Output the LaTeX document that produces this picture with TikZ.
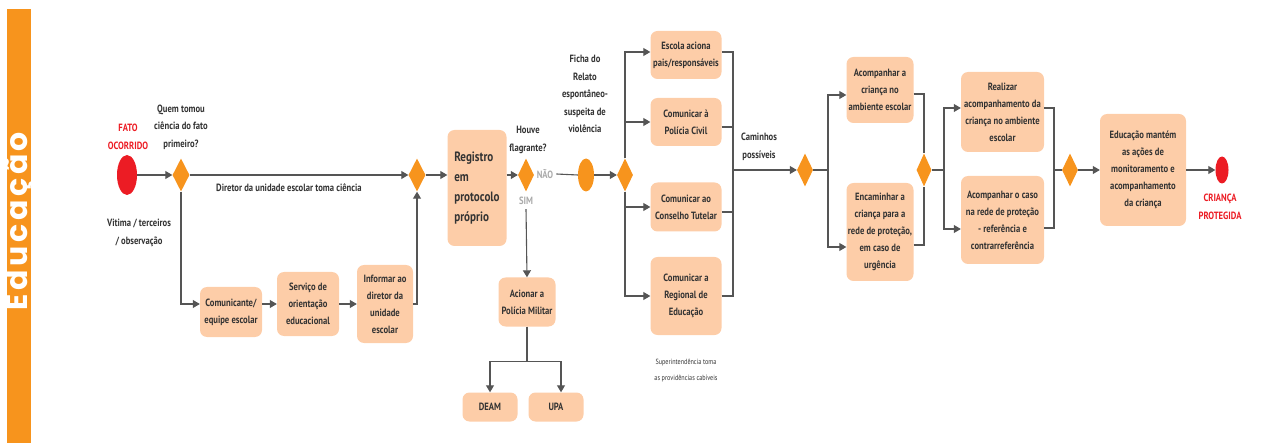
\documentclass[tikz,border=0pt]{standalone}
\usepackage{fontspec}
\setmainfont[FakeStretch=0.82]{PT Sans}
\newfontfamily\barrafont[LetterSpace=12]{Poppins}
\usetikzlibrary{shapes.geometric,arrows.meta}
\definecolor{laranja}{HTML}{F7941D}
\definecolor{pessego}{HTML}{FDCDA8}
\definecolor{traco}{HTML}{555555}
\definecolor{texto}{HTML}{333333}
\definecolor{vermelho}{HTML}{EC1C24}
\definecolor{cinza}{HTML}{AAAAAA}
\begin{document}
\begin{tikzpicture}[x=1pt,y=-1pt,
		caixa/.style={shape=rectangle, rounded corners=7pt, fill=pessego, text=texto, font=\fontsize{10.5}{17}\selectfont\bfseries, align=center, inner sep=0pt},
		losango/.style={shape=diamond, fill=laranja, inner sep=0pt, minimum width=17pt, minimum height=33pt},
		rotulo/.style={text=texto, font=\fontsize{10.5}{17.5}\selectfont\bfseries, align=center, inner sep=0pt},
		seta/.style={draw=traco, line width=1.1pt, -{Triangle[length=7pt,width=8pt]}},
		linha/.style={draw=traco, line width=1.1pt}]
		\useasboundingbox (0,0) rectangle (1273,443);
		\node[fill=laranja, minimum width=24pt, minimum height=434pt, inner sep=0pt] (barra) at (19,226) {};
		\node[rotate=90, inner sep=0pt, text=white, font=\barrafont\fontsize{30}{30}\selectfont\bfseries] (barratxt) at (20,221) {Educação};
		% Entrada
		\node[shape=ellipse, fill=vermelho, minimum width=20pt, minimum height=40pt, inner sep=0pt] (fato) at (127,175) {};
		\node[rotulo, text=vermelho] (fatotxt) at (128,137) {FATO\\OCORRIDO};
		\node[losango] (quem) at (181,175) {};
		\node[rotulo] (quemtxt) at (181,127) {Quem tomou\\ciência do fato\\primeiro?};
		\node[rotulo] (vitima) at (139,233) {Vitima / terceiros\\/ observação};
		\node[rotulo] (diretor) at (289,188) {Diretor da unidade escolar toma ciência};
		\node[losango] (junta) at (417,175) {};
		\node[caixa, minimum width=62pt, minimum height=50pt] (comunicante) at (231,312) {Comunicante/\\equipe escolar};
		\node[caixa, minimum width=62pt, minimum height=64pt] (servico) at (308,304) {Serviço de\\orientação\\educacional};
		\node[caixa, minimum width=56pt, minimum height=78pt] (informar) at (385,304) {Informar ao\\diretor da\\unidade\\escolar};
		% Registro e flagrante
		\node[caixa, minimum width=59pt, minimum height=116pt, font=\fontsize{13.5}{20}\selectfont\bfseries, align=left] (registro) at (477,188) {Registro\\em\\protocolo\\próprio};
		\node[losango, minimum width=16pt] (flagrante) at (526,175) {};
		\node[rotulo] (houve) at (528,140) {Houve\\flagrante?};
		\node[rotulo, text=cinza] (nao) at (545,174) {NÃO};
		\node[rotulo, text=cinza] (sim) at (526,201) {SIM};
		\node[caixa, minimum width=57pt, minimum height=49pt] (militar) at (527,302) {Acionar a\\Polícia Militar};
		\node[caixa, minimum width=55pt, minimum height=29pt] (deam) at (490,407) {DEAM};
		\node[caixa, minimum width=55pt, minimum height=29pt] (upa) at (556,407) {UPA};
		\node[shape=ellipse, fill=laranja, minimum width=16pt, minimum height=33pt, inner sep=0pt] (ficha) at (586,175) {};
		\node[rotulo] (fichatxt) at (585,94) {Ficha do\\Relato\\espontâneo-\\suspeita de\\violência};
		\node[losango, minimum width=16pt] (caminho) at (625,175) {};
		% Comunicacoes
		\node[caixa, minimum width=71pt, minimum height=48pt] (escola) at (686,55) {Escola aciona\\pais/responsáveis};
		\node[caixa, minimum width=71pt, minimum height=48pt] (civil) at (686,122) {Comunicar à\\Polícia Civil};
		\node[caixa, minimum width=71pt, minimum height=49pt] (conselho) at (686,207) {Comunicar ao\\Conselho Tutelar};
		\node[caixa, minimum width=71pt, minimum height=78pt] (regional) at (686,296) {Comunicar a\\Regional de\\Educação};
		\node[rotulo, font=\fontsize{7.5}{16}\selectfont] (superint) at (686,371) {Superintendência toma\\as providências cabíveis};
		\coordinate (coletor) at (733,170);
		\node[rotulo] (possiveis) at (759,147) {Caminhos\\possíveis};
		% Acompanhamento
		\node[losango, minimum width=16pt] (escolha) at (805,170) {};
		\coordinate (ramo) at (828,170);
		\node[caixa, minimum width=67pt, minimum height=66pt] (acompanhar) at (880,90) {Acompanhar a\\criança no\\ambiente escolar};
		\node[caixa, minimum width=67pt, minimum height=98pt] (encaminhar) at (880,232) {Encaminhar a\\criança para a\\rede de proteção,\\em caso de\\urgência};
		\node[losango, minimum width=15pt] (segue) at (924,170) {};
		\coordinate (ramob) at (944,170);
		\node[caixa, minimum width=83pt, minimum height=80pt] (realizar) at (1002.5,112) {Realizar\\acompanhamento da\\criança no ambiente\\escolar};
		\node[caixa, minimum width=83pt, minimum height=88pt] (rede) at (1002.5,220) {Acompanhar o caso\\na rede de proteção\\- referência e\\contrarreferência};
		\coordinate (coletorb) at (1054,170);
		\node[losango, minimum width=16pt] (fim) at (1070,170) {};
		\node[caixa, minimum width=86pt, minimum height=112pt] (mantem) at (1143,170) {Educação mantém\\as ações de\\monitoramento e\\acompanhamento\\da criança};
		\node[shape=ellipse, fill=vermelho, minimum width=13pt, minimum height=27pt, inner sep=0pt] (protegida) at (1222,170) {};
		\node[rotulo, text=vermelho] (protegtxt) at (1220,207) {CRIANÇA\\PROTEGIDA};
		% Connections
		\draw[seta] (fato) -- (quem);
		\draw[seta] (quem) -- (junta);
		\draw[seta] (quem.south) |- (comunicante.west |- servico.west);
		\draw[seta] (comunicante.east |- servico.west) -- (servico.west);
		\draw[seta] (servico.east) -- (informar.west);
		\draw[seta] (informar.east) -| (junta.south);
		\draw[seta] (junta.east) -- (registro.west |- junta.east);
		\draw[seta] (registro.east |- flagrante.west) -- (flagrante.west);
		\draw[linha] (nao.east) ++(3,0) -- (ficha.west);
		\draw[seta] (ficha) -- (caminho);
		\draw[seta] (sim.south) ++(0,4) -- (militar.north);
		\draw[linha] (militar.south) -- ++(0,35) coordinate (bifurca);
		\draw[seta] (bifurca) -| (deam.north);
		\draw[seta] (bifurca) -| ([xshift=5pt]upa.north);
		%% Caminhos
		\draw[seta] (caminho.north) |- ([yshift=3pt]escola.west);
		\draw[seta] (caminho.north) |- (civil.west);
		\draw[seta] (caminho.south) |- (conselho.west);
		\draw[seta] (caminho.south) |- (regional.west);
		\draw[linha] ([yshift=3pt]escola.east) -| (coletor);
		\draw[linha] ([yshift=-5pt]civil.east) -| (coletor);
		\draw[linha] ([yshift=-5pt]conselho.east) -| (coletor);
		\draw[linha] (regional.east) -| (coletor);
		\draw[seta] (coletor) -- (escolha.west);
		%% Acompanhamento
		\draw[linha] (escolha.east) -- (ramo);
		\draw[seta] (ramo) |- ([yshift=-5pt]acompanhar.west);
		\draw[seta] (ramo) |- ([yshift=-15pt]encaminhar.west);
		\draw[linha] ([yshift=-4pt]acompanhar.east) -| (segue.north);
		\draw[linha] ([yshift=-13pt]encaminhar.east) -| (segue.south);
		\draw[linha] (segue.east) -- (ramob);
		\draw[seta] (ramob) |- ([yshift=4pt]realizar.west);
		\draw[seta] (ramob) |- ([yshift=-9pt]rede.west);
		\draw[linha] ([yshift=4pt]realizar.east) -| (coletorb);
		\draw[linha] ([yshift=-8pt]rede.east) -| (coletorb);
		\draw[linha] (coletorb) -- (fim.west);
		\draw[seta] (fim.east) -- (mantem.west);
		\draw[seta] (mantem.east) -- (protegida.west);
	\end{tikzpicture}
\end{document}
